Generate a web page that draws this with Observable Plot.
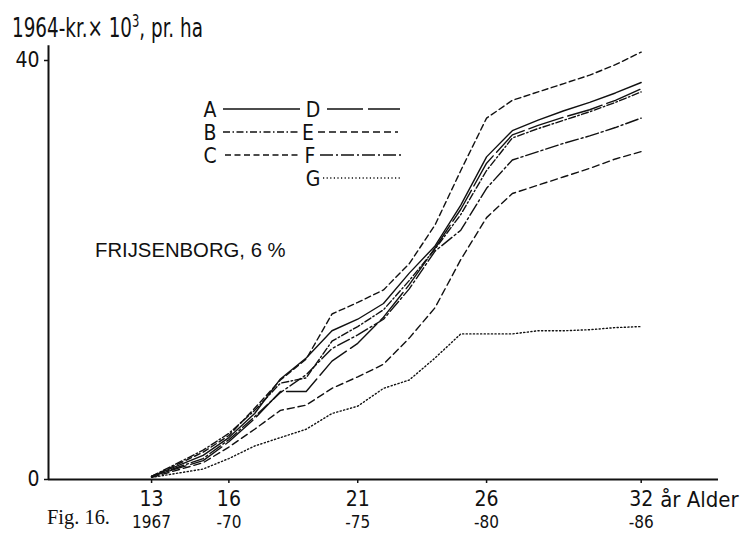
<!DOCTYPE html>
<html><head><meta charset="utf-8">
<script src="https://cdn.jsdelivr.net/npm/d3@7"></script>
<script src="https://cdn.jsdelivr.net/npm/@observablehq/plot@0.6"></script>
<style>body{margin:0;background:#fff} #chart{width:751px;height:534px;position:relative}</style>
</head><body><div id="chart"></div><script>
// Age (years) at which values are read
const ages = [13, 15, 16, 17, 18, 19, 20, 21, 22, 23, 24, 25, 26, 27, 28, 29, 30, 31, 32];
// Series values, 1964-kr. x 10^3 per ha
const A = [0.3, 2.3, 4.0, 6.3, 9.6, 11.6, 14.2, 15.3, 16.8, 19.7, 22.3, 26.2, 30.8, 33.3, 34.3, 35.2, 36.0, 36.9, 37.9];
const B = [0.3, 2.8, 4.4, 6.6, 9.2, 9.7, 13.2, 14.6, 16.2, 19.0, 22.0, 25.3, 29.5, 32.6, 33.5, 34.3, 35.1, 36.0, 37.0];
const C = [0.3, 2.6, 4.2, 6.8, 9.5, 11.5, 15.8, 16.9, 18.1, 20.6, 24.3, 29.5, 34.5, 36.2, 37.0, 37.8, 38.6, 39.6, 40.8];
const D = [0.3, 1.8, 3.6, 5.8, 8.4, 8.4, 11.3, 13.0, 15.5, 18.6, 22.1, 25.8, 30.2, 32.9, 33.8, 34.6, 35.3, 36.2, 37.3];
const E = [0.2, 1.6, 3.1, 4.8, 6.6, 7.1, 8.7, 9.8, 11.0, 13.5, 16.4, 21.0, 25.0, 27.3, 28.1, 28.9, 29.7, 30.6, 31.3];
const F = [0.3, 2.0, 3.8, 6.0, 8.3, 10.0, 12.5, 13.8, 15.3, 18.2, 21.8, 23.8, 27.8, 30.5, 31.3, 32.1, 32.8, 33.6, 34.5];
const G = [0.2, 1.0, 2.0, 3.2, 4.0, 4.8, 6.3, 7.0, 8.7, 9.5, 11.6, 13.9, 13.9, 13.9, 14.2, 14.2, 14.3, 14.5, 14.6];
// Tick labels
const xTicks = [13, 16, 21, 26, 32];
const yearLabels = ["1967", "-70", "-75", "-80", "-86"];
const yTicks = [0, 40];
const seriesNames = ["A", "B", "C", "D", "E", "F", "G"];
const titleText = "1964-kr.× 10";
const stationLabel = "FRIJSENBORG, 6 %";

const seriesValues = {A, B, C, D, E, F, G};
const dashes = {A: null, B: "7,2.5,1.5,2.5", C: "6,3.5", D: "36,5", E: "7,4", F: "13,3,2,3", G: "1.2,2.4"};

const NARROW = "'Liberation Sans Narrow','DejaVu Sans Condensed','Arial Narrow',sans-serif";
const INK = "#111";

const lineMarks = seriesNames.map(n =>
  Plot.line(ages.map((a, i) => ({age: a, v: seriesValues[n][i]})), {
    x: "age", y: "v", stroke: INK, strokeWidth: 1.4,
    strokeDasharray: dashes[n], strokeLinejoin: "round"
  })
);

const plot = Plot.plot({
  width: 751, height: 534,
  marginLeft: 48, marginRight: 33, marginTop: 60, marginBottom: 55,
  x: {domain: [9, 35], axis: null},
  y: {domain: [0, 40], axis: null},
  style: {background: "#fff", fontFamily: NARROW, color: INK},
  marks: [
    ...lineMarks,
    Plot.ruleX([9], {y1: 0, y2: 41.4, stroke: INK, strokeWidth: 2}),
    Plot.ruleY([0], {x1: 9, x2: 35, stroke: INK, strokeWidth: 2}),
    Plot.axisX({ticks: xTicks, tickSize: 4, tickPadding: 8, fontSize: 21, label: null, stroke: INK, strokeWidth: 1.5}),
    Plot.text(xTicks, {x: d => d, frameAnchor: "bottom", text: (d, i) => yearLabels[i], dy: 36, lineAnchor: "top", fontSize: 17, fill: INK}),
    Plot.text([32], {x: d => d, frameAnchor: "bottom", text: () => "år Alder", dx: 19, dy: 12, textAnchor: "start", lineAnchor: "top", fontSize: 22, fill: INK}),
    Plot.axisY({ticks: yTicks, tickSize: 4, tickPadding: 5, fontSize: 21, label: null, stroke: INK, strokeWidth: 1.5})
  ]
});
document.getElementById("chart").appendChild(plot);

// Overlay texts and legend (inside the same SVG)
const svg = d3.select(plot);
function fitText(sel, x, y, targetWidth) {
  const w = sel.node().getBBox().width;
  const k = targetWidth ? targetWidth / w : 1;
  sel.attr("x", 0).attr("y", 0).attr("transform", `translate(${x},${y}) scale(${k},1)`);
}
const title = svg.append("text").attr("text-anchor", "start")
  .attr("font-family", NARROW).attr("font-size", 27).attr("fill", INK);
title.append("tspan").text(titleText);
title.append("tspan").attr("dy", -10).attr("font-size", 17).text("3");
title.append("tspan").attr("dy", 10).text(", pr. ha");
fitText(title, 12, 37, 191);

const station = svg.append("text").attr("text-anchor", "start")
  .attr("font-family", "'Liberation Sans',Arial,sans-serif").attr("font-size", 20)
  .attr("fill", INK).text(stationLabel);
fitText(station, 95, 257, 191);

const fig = svg.append("text").attr("text-anchor", "start")
  .attr("font-family", "'Liberation Serif','Times New Roman',serif").attr("font-size", 20)
  .attr("fill", INK).text("Fig. 16.");
fitText(fig, 47, 524, 63);

const legendLayout = {
  A: {lx: 210, x1: 223, x2: 300, y: 109},
  B: {lx: 210, x1: 223, x2: 298, y: 132},
  C: {lx: 210, x1: 225, x2: 300, y: 155},
  D: {lx: 313, x1: 327, x2: 400, y: 109},
  E: {lx: 308, x1: 318, x2: 398, y: 132},
  F: {lx: 310, x1: 320, x2: 402, y: 155},
  G: {lx: 313, x1: 323, x2: 402, y: 178}
};
for (const n of seriesNames) {
  const L = legendLayout[n];
  svg.append("text").attr("x", L.lx).attr("y", L.y).attr("dy", "0.36em")
    .attr("text-anchor", "middle").attr("font-family", NARROW).attr("font-size", 21)
    .attr("fill", INK).text(n);
  svg.append("line").attr("x1", L.x1).attr("x2", L.x2).attr("y1", L.y).attr("y2", L.y)
    .attr("stroke", INK).attr("stroke-width", 1.4)
    .attr("stroke-dasharray", dashes[n]);
}
</script></body></html>
